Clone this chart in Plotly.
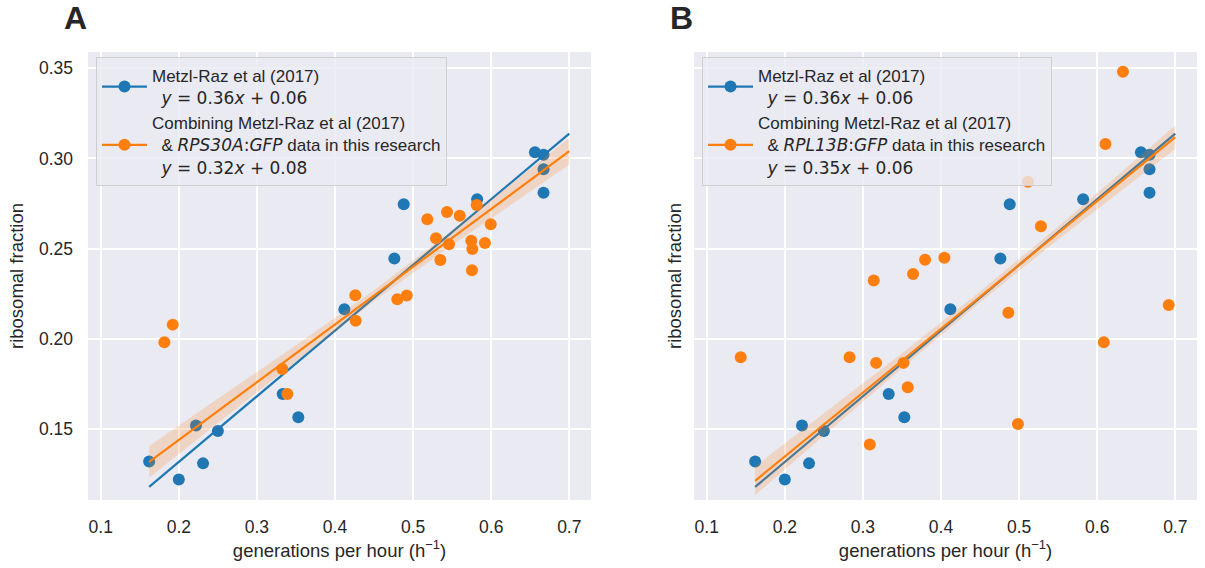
import plotly.graph_objects as go

BLUE = "#1f77b4"
ORANGE = "#ff7f0e"
BAND = "rgba(255,127,14,0.20)"
TEXT = "#262626"
SANS = "Liberation Sans, Arial, sans-serif"
MATH = "DejaVu Sans"

# Metzl-Raz et al (2017): growth rate (generations per hour) vs ribosomal fraction
metzl_rate = [0.162, 0.200, 0.222, 0.231, 0.250, 0.333, 0.353, 0.412,
              0.476, 0.488, 0.582, 0.656, 0.667, 0.667, 0.667]
metzl_ribo = [0.132, 0.122, 0.152, 0.131, 0.149, 0.1695, 0.1565, 0.2164,
              0.2445, 0.2746, 0.2774, 0.3034, 0.302, 0.294, 0.281]

# RPS30A:GFP measurements from this research
rps30a_rate = [0.1815, 0.1922, 0.3325, 0.339, 0.426, 0.4265, 0.4798, 0.4918,
               0.5182, 0.5293, 0.5349, 0.5434, 0.546, 0.5597, 0.5745, 0.5754,
               0.5758, 0.5814, 0.592, 0.5994]
rps30a_ribo = [0.1981, 0.2079, 0.1833, 0.1695, 0.2242, 0.2101, 0.222, 0.224,
               0.2663, 0.2558, 0.2437, 0.2703, 0.2524, 0.2683, 0.2544, 0.238,
               0.2498, 0.2742, 0.2532, 0.2635]

# RPL13B:GFP measurements from this research
rpl13b_rate = [0.1435, 0.2829, 0.3088, 0.3139, 0.3169, 0.352, 0.3574, 0.3642,
               0.3796, 0.4043, 0.4862, 0.4985, 0.5113, 0.5279, 0.6085, 0.6106,
               0.633, 0.6916]
rpl13b_ribo = [0.1898, 0.1898, 0.1414, 0.2323, 0.1867, 0.1867, 0.1732, 0.236,
               0.2439, 0.245, 0.2145, 0.1528, 0.2871, 0.2624, 0.1981, 0.308,
               0.348, 0.2188]

# linear fits (slope, intercept) and the x-span they are drawn over
fit_metzl = (0.364, 0.059)
fit_rps30a = (0.320, 0.080)
fit_rpl13b = (0.354, 0.064)
fit_span = [0.162, 0.700]

# 95% confidence band half-widths of the combined fits
band_x = [0.162, 0.25, 0.35, 0.45, 0.55, 0.62, 0.70]
band_half_rps30a = [0.0088, 0.0066, 0.0045, 0.0030, 0.0040, 0.0055, 0.0075]
band_half_rpl13b = [0.0080, 0.0060, 0.0042, 0.0030, 0.0036, 0.0048, 0.0065]

x_ticks = [0.1, 0.2, 0.3, 0.4, 0.5, 0.6, 0.7]
x_tick_text = ["0.1", "0.2", "0.3", "0.4", "0.5", "0.6", "0.7"]
y_ticks = [0.15, 0.20, 0.25, 0.30, 0.35]
y_tick_text = ["0.15", "0.20", "0.25", "0.30", "0.35"]
x_range = [0.0837, 0.7278]
y_range = [0.1107, 0.359]


def line_y(fit, xs):
    return [fit[0] * x + fit[1] for x in xs]


def eq_label(fit):
    return (f"<span style='font-family:{MATH}'><i>y</i> = {fit[0]:.2f}<i>x</i>"
            f" + {fit[1]:.2f}</span>")


def gene_label(gene):
    g1, g2 = gene.split(":")
    return (f"<span style='font-family:{MATH}'><i>{g1}</i>:<i>{g2}</i></span>")


fig = go.Figure()


def add_panel(xa, ya, legend, rate, ribo, fit, band_half, gene):
    # Metzl-Raz scatter and fit
    fig.add_trace(go.Scatter(x=metzl_rate, y=metzl_ribo, mode="markers",
                             marker=dict(color=BLUE, size=12),
                             xaxis=xa, yaxis=ya, showlegend=False, hoverinfo="skip"))
    fig.add_trace(go.Scatter(x=fit_span, y=line_y(fit_metzl, fit_span), mode="lines",
                             line=dict(color=BLUE, width=2.2),
                             xaxis=xa, yaxis=ya, showlegend=False, hoverinfo="skip"))
    # new measurements, combined fit and its confidence band
    fig.add_trace(go.Scatter(x=rate, y=ribo, mode="markers",
                             marker=dict(color=ORANGE, size=12),
                             xaxis=xa, yaxis=ya, showlegend=False, hoverinfo="skip"))
    centre = line_y(fit, band_x)
    upper = [c + h for c, h in zip(centre, band_half)]
    lower = [c - h for c, h in zip(centre, band_half)]
    fig.add_trace(go.Scatter(x=band_x + band_x[::-1], y=upper + lower[::-1],
                             fill="toself", fillcolor=BAND, mode="lines",
                             line=dict(width=0), xaxis=xa, yaxis=ya,
                             showlegend=False, hoverinfo="skip"))
    fig.add_trace(go.Scatter(x=fit_span, y=line_y(fit, fit_span), mode="lines",
                             line=dict(color=ORANGE, width=2.2),
                             xaxis=xa, yaxis=ya, showlegend=False, hoverinfo="skip"))
    # legend entries
    fig.add_trace(go.Scatter(x=[None], y=[None], mode="lines+markers",
                             line=dict(color=BLUE, width=2.2),
                             marker=dict(color=BLUE, size=12),
                             name="Metzl-Raz et al (2017)<br>  " + eq_label(fit_metzl),
                             xaxis=xa, yaxis=ya, legend=legend))
    fig.add_trace(go.Scatter(x=[None], y=[None], mode="lines+markers",
                             line=dict(color=ORANGE, width=2.2),
                             marker=dict(color=ORANGE, size=12),
                             name=("Combining Metzl-Raz et al (2017)<br>  &amp; "
                                   + gene_label(gene) + " data in this research<br>  "
                                   + eq_label(fit)),
                             xaxis=xa, yaxis=ya, legend=legend))


add_panel("x", "y", "legend", rps30a_rate, rps30a_ribo, fit_rps30a,
          band_half_rps30a, "RPS30A:GFP")
add_panel("x2", "y2", "legend2", rpl13b_rate, rpl13b_ribo, fit_rpl13b,
          band_half_rpl13b, "RPL13B:GFP")

W, H = 1205, 568
dom_y = [1 - 500 / H, 1 - 52 / H]
dom_a = [88 / W, 591 / W]
dom_b = [694 / W, 1197 / W]

axis_common = dict(showgrid=True, gridcolor="white", gridwidth=1.8, zeroline=False,
                   showline=False, ticks="", tickfont=dict(family=SANS, size=17.5, color=TEXT),
                   title_font=dict(family=SANS, size=18.5, color=TEXT))

xlabel = "generations per hour (h<sup>−1</sup>)"

legend_common = dict(xanchor="left", yanchor="top", y=1 - 57 / H,
                     bgcolor="rgba(234,234,242,0.8)", bordercolor="#cfcfcf", borderwidth=1,
                     font=dict(family=SANS, size=17, color=TEXT), itemwidth=45,
                     valign="middle")

fig.update_layout(
    width=W, height=H,
    margin=dict(l=0, r=0, t=0, b=0),
    paper_bgcolor="white", plot_bgcolor="#EAEAF2",
    xaxis=dict(domain=dom_a, range=x_range, tickvals=x_ticks, ticktext=x_tick_text,
               anchor="y", title=dict(text=xlabel, standoff=8), ticklabelstandoff=14,
               **axis_common),
    yaxis=dict(domain=dom_y, range=y_range, tickvals=y_ticks, ticktext=y_tick_text,
               anchor="x", title=dict(text="ribosomal fraction", standoff=10),
               ticklabelstandoff=14, **axis_common),
    xaxis2=dict(domain=dom_b, range=x_range, tickvals=x_ticks, ticktext=x_tick_text,
                anchor="y2", title=dict(text=xlabel, standoff=8), ticklabelstandoff=14,
                **axis_common),
    yaxis2=dict(domain=dom_y, range=y_range, tickvals=y_ticks, ticktext=y_tick_text,
                anchor="x2", showticklabels=False,
                title=dict(text="ribosomal fraction", standoff=6), **axis_common),
    legend=dict(x=96 / W, **legend_common),
    legend2=dict(x=702 / W, **legend_common),
    annotations=[
        dict(text="<b>A</b>", x=62 / W, y=1 - 18 / H, xref="paper", yref="paper",
             xanchor="left", yanchor="middle", showarrow=False,
             font=dict(family=SANS, size=32, color=TEXT)),
        dict(text="<b>B</b>", x=668 / W, y=1 - 18 / H, xref="paper", yref="paper",
             xanchor="left", yanchor="middle", showarrow=False,
             font=dict(family=SANS, size=32, color=TEXT)),
    ],
)

fig.write_html("out.html")
